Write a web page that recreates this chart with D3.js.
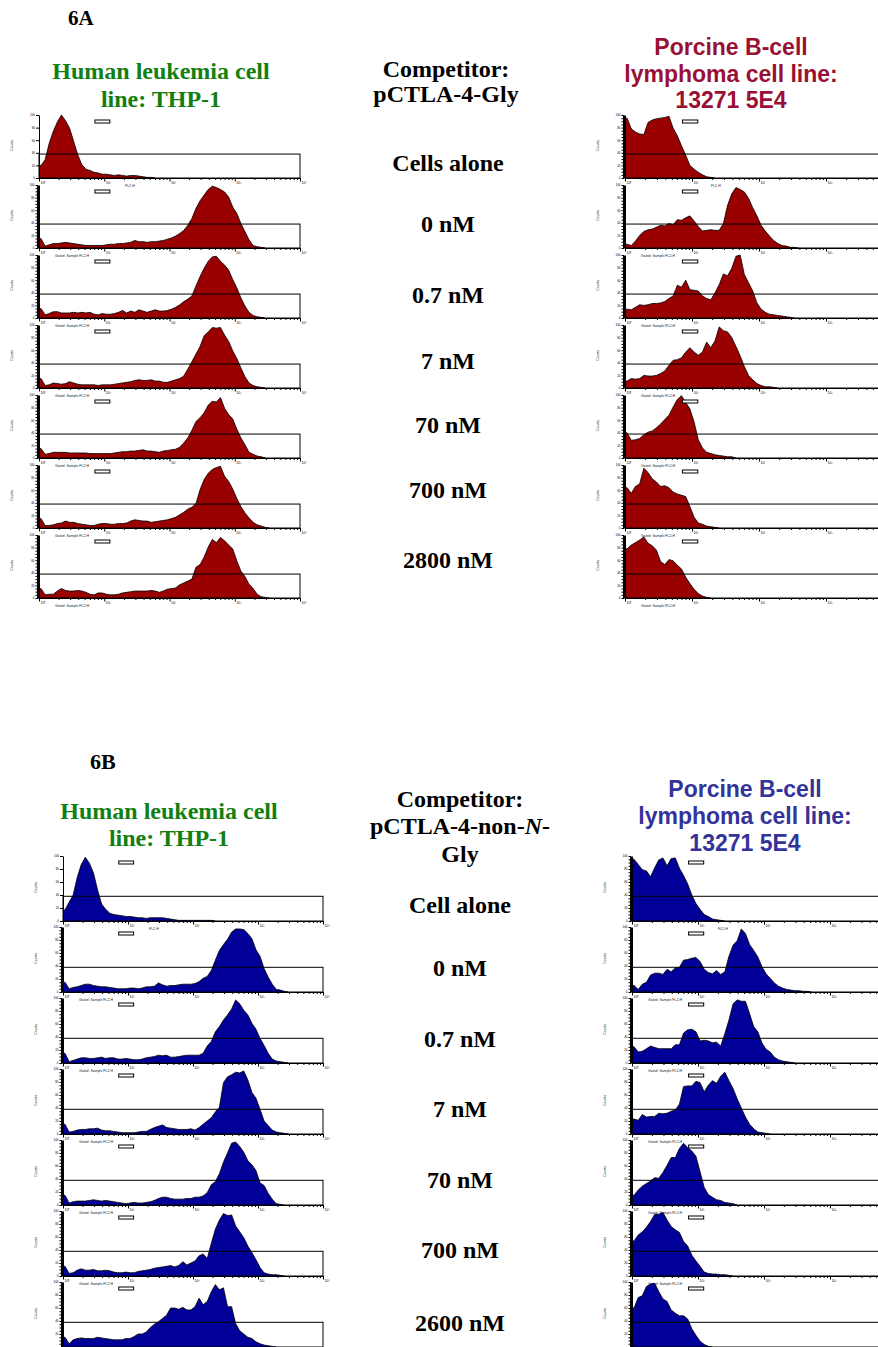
<!DOCTYPE html>
<html>
<head>
<meta charset="utf-8">
<script src="https://cdnjs.cloudflare.com/ajax/libs/d3/7.8.5/d3.min.js"></script>
<style>
  body { margin: 0; background: #fff; }
  svg { display: block; background: #fff; }
  .serif { font-family: "Liberation Serif", "Times New Roman", serif; font-weight: bold; }
  .sans { font-family: "Liberation Sans", Arial, sans-serif; font-weight: bold; }
  .tiny { font-family: "Liberation Sans", Arial, sans-serif; fill: #222; }
</style>
</head>
<body>
<div id="figure"></div>
<script>
// histogram counts, % of the plot's max, 16 bins per decade starting at channel 10^0
const binsPerDecade = 16;
const gateLevel = 38;            // horizontal gate, in % of max count
const markerRange = [7.2, 12.2]; // small marker bar, in channel units

const concA = ["Cells alone", "0 nM", "0.7 nM", "7 nM", "70 nM", "700 nM", "2800 nM"];
const concB = ["Cell alone", "0 nM", "0.7 nM", "7 nM", "70 nM", "700 nM", "2600 nM"];

// 6A, THP-1 (pCTLA-4-Gly)
const thpGly = [
  [20,29,55,74,89,100,91,79,58,37,21,14,12,9,8,6,6,5,4,5,4,3,4,4,3,2,1,1],
  [15,3,5,7,7,8,9,8,7,6,5,4,4,4,4,4,5,6,6,7,7,8,9,12,10,10,9,10,10,11,12,14,16,19,23,28,36,47,63,75,84,93,98,96,93,89,81,65,55,39,26,13,4,2,1],
  [15,5,7,10,10,8,8,8,9,8,9,8,9,6,5,7,6,6,7,9,12,8,11,9,13,11,9,11,13,11,11,12,14,17,21,26,30,35,51,66,79,90,97,98,90,84,76,61,48,32,19,9,4,2,1],
  [15,4,5,8,7,6,7,10,8,6,5,5,5,5,4,5,5,5,6,7,8,9,10,12,13,12,12,13,11,11,9,9,11,13,15,19,30,42,54,66,83,89,96,95,96,84,74,59,47,32,18,8,4,2,1],
  [15,6,7,9,9,9,9,8,8,8,8,8,7,7,7,7,7,7,8,9,10,10,11,11,12,13,11,11,10,9,11,12,13,14,17,24,32,44,58,64,72,84,90,89,96,79,69,62,46,32,21,9,6,3,2],
  [15,4,4,5,7,8,11,9,9,7,6,5,4,4,6,7,7,6,6,7,7,8,11,13,12,11,11,9,10,11,12,13,15,17,21,25,30,33,39,61,77,87,93,96,98,82,74,62,47,34,24,16,9,5,3,1],
  [15,5,6,6,11,15,12,11,11,12,11,9,6,5,8,8,6,5,5,6,8,9,10,11,11,11,11,12,11,9,11,14,15,16,21,24,27,30,49,53,65,81,93,88,96,91,84,78,59,43,34,22,15,6,2,1]
];

// 6A, porcine 13271 5E4 (pCTLA-4-Gly)
const pbGly = [
  [95,78,73,70,69,88,92,94,95,96,98,79,67,51,36,20,14,9,5,2,1],
  [6,4,11,20,26,29,30,33,36,35,39,37,45,44,48,51,43,34,27,28,29,28,28,39,68,86,96,93,89,79,64,51,36,27,19,12,7,4,3,1,1],
  [14,13,17,21,20,21,23,23,24,26,31,35,52,49,60,45,44,43,35,31,29,40,53,70,67,79,98,100,69,56,43,24,14,9,6,5,4,3,2,1],
  [11,15,14,15,20,19,19,20,23,27,36,44,45,48,57,64,57,52,57,73,64,75,97,91,89,80,66,51,34,20,13,7,4,2,2,1],
  [40,28,29,31,37,41,43,48,54,61,68,81,93,99,88,78,57,29,16,9,7,5,4,3,2,2],
  [64,55,66,70,95,88,78,73,66,67,64,57,54,52,50,34,17,8,6,3,2,1],
  [78,84,88,92,97,87,83,76,58,53,61,59,52,46,33,23,14,7,3,1]
];

// 6B, THP-1 (pCTLA-4-non-N-Gly)
const thpNonGly = [
  [17,29,40,67,87,98,89,74,48,26,18,12,10,9,8,7,7,6,5,5,4,5,5,5,5,4,3,2,1,1,1,1,1,1,1,1,1],
  [15,5,7,8,10,12,12,10,9,8,8,7,6,5,5,5,6,6,5,6,8,8,9,14,11,9,10,10,11,12,12,12,13,16,21,24,33,49,64,73,81,92,97,97,96,90,82,65,55,36,23,12,4,3,1],
  [15,2,4,6,8,8,7,7,8,9,7,8,8,6,6,7,6,5,5,6,8,9,10,12,11,12,9,9,10,11,12,12,12,12,15,26,33,48,56,66,74,83,97,91,81,74,61,52,38,27,15,6,3,2,1],
  [15,3,4,6,7,7,8,8,9,6,5,5,4,3,2,2,2,2,3,4,4,7,10,12,14,10,9,8,7,7,7,8,6,10,15,20,25,34,41,79,88,91,95,94,97,83,64,55,38,20,13,6,3,2,1],
  [15,3,5,6,6,6,7,8,7,6,7,6,5,4,3,2,3,4,3,3,4,5,7,10,12,12,10,9,9,9,10,10,12,12,14,19,31,36,48,66,80,95,97,90,81,68,62,53,34,30,18,9,2,1],
  [15,4,5,9,11,9,9,10,8,8,9,8,6,5,5,6,5,5,7,8,9,10,12,13,14,15,16,14,16,22,17,20,23,31,34,27,50,72,86,96,93,94,77,68,59,46,36,25,13,5,3,2,2,1],
  [15,5,11,13,14,13,13,13,15,14,13,12,11,11,11,13,13,16,20,20,23,30,35,39,44,49,60,60,58,61,57,57,62,75,65,70,85,96,88,91,62,62,36,25,20,15,13,8,5,3,2,1]
];

// 6B, porcine 13271 5E4 (pCTLA-4-non-N-Gly)
const pbNonGly = [
  [95,87,79,77,68,82,94,97,85,96,97,81,70,57,40,27,18,10,7,3,2,1],
  [10,4,12,15,26,29,29,27,35,31,37,38,49,50,52,53,47,35,30,28,33,27,31,55,72,79,97,90,73,64,54,39,28,21,14,9,6,4,3,2,2,1,1],
  [25,17,18,22,26,24,22,22,22,22,28,28,46,51,52,48,34,35,34,31,32,26,45,66,91,97,95,95,76,56,48,31,21,17,9,5,3,2,1],
  [23,21,30,26,27,27,32,31,32,35,37,46,73,74,74,81,79,65,75,82,78,89,95,82,70,54,40,26,15,8,3,2,1],
  [15,23,29,33,37,42,41,50,61,73,73,87,95,88,83,75,51,27,16,12,8,7,4,3,2],
  [54,63,68,75,84,95,95,98,86,76,71,67,53,46,32,23,15,6,4,3,3,2,2,1],
  [60,76,79,93,97,98,85,74,70,57,52,48,48,43,28,18,9,4,1]
];

const W = 878, H = 1347;
const svg = d3.select("#figure").append("svg").attr("width", W).attr("height", H);

const supDigits = ["\u2070", "\u00b9", "\u00b2", "\u00b3", "\u2074"];

function drawHist(counts, x0, w, top, h, fill, dense, firstRow) {
  const g = svg.append("g");
  const x = d3.scaleLog().domain([1, 1e4]).range([x0, x0 + w]);
  const y = d3.scaleLinear().domain([0, 100]).range([top + h, top]);
  const roomBelow = top + h + 8 < H; // last row sits on the page edge

  const pts = counts.map((c, i) => [Math.pow(10, (i + 0.5) / binsPerDecade), c]);
  pts.unshift([1, counts[0]]);
  pts.push([Math.pow(10, (counts.length + 0.5) / binsPerDecade), 0]);

  const area = d3.area().x(d => x(d[0])).y0(y(0)).y1(d => y(d[1]));
  const line = d3.line().x(d => x(d[0])).y(d => y(d[1]));
  g.append("path").attr("d", area(pts)).attr("fill", fill);
  g.append("path").attr("d", line(pts)).attr("fill", "none")
    .attr("stroke", "#000").attr("stroke-width", 0.8);

  // x axis: log minor + decade ticks (labels only where they fit on the page)
  const minor = [];
  for (let d = 0; d < 4; d++) for (let k = 2; k < 10; k++) minor.push(k * Math.pow(10, d));
  g.append("g").attr("transform", `translate(0,${top + h})`)
    .call(d3.axisBottom(x).tickValues(minor).tickSize(2).tickSizeOuter(0).tickFormat(""))
    .call(a => a.select(".domain").attr("stroke-width", 1));
  const decades = [1, 10, 100, 1000, 10000].filter(d => x(d) < W - 12);
  g.append("g").attr("transform", `translate(0,${top + h})`)
    .call(d3.axisBottom(x).tickValues(decades).tickSize(3.5)
      .tickSizeOuter(0).tickPadding(0.5)
      .tickFormat(d => (roomBelow ? "10" + supDigits[Math.round(Math.log10(d))] : "")))
    .attr("font-size", 3.5)
    .call(a => a.select(".domain").remove())
    .call(a => a.selectAll("text").attr("text-anchor", "start").attr("dx", 1));

  // y axis
  const ya = g.append("g").attr("transform", `translate(${dense ? x0 - 1 : x0},0)`)
    .call(d3.axisLeft(y).ticks(dense ? 20 : 4).tickSize(dense ? 2.5 : 3).tickSizeOuter(0)
      .tickPadding(1)
      .tickFormat(d => {
        if (d === 0 && !roomBelow) return "";
        return dense ? (d % 20 === 0 ? d : "") : d;
      }))
    .attr("font-size", 3);
  ya.select(".domain").attr("stroke-width", dense ? 3 : 1);

  g.append("text").attr("class", "tiny").attr("font-size", 3.5)
    .attr("transform", `translate(${x0 - 26},${top + h * 0.48}) rotate(-90)`)
    .attr("text-anchor", "middle").text("Counts");
  if (roomBelow) {
    g.append("text").attr("class", "tiny").attr("font-size", 3.5)
      .attr("x", firstRow ? x0 + 86 : x0 + 16).attr("y", top + h + 9)
      .text(firstRow ? "FL2-H" : "Gated: Sample FL2-H");
  }

  // gate rectangle
  g.append("rect")
    .attr("x", x(1)).attr("y", y(gateLevel))
    .attr("width", x(1e4) - x(1)).attr("height", y(0) - y(gateLevel))
    .attr("fill", "none").attr("stroke", "#000").attr("stroke-width", 1);

  // marker bar
  g.append("rect")
    .attr("x", x(markerRange[0])).attr("y", top + 5)
    .attr("width", x(markerRange[1]) - x(markerRange[0])).attr("height", 3)
    .attr("fill", "#fff").attr("stroke", "#000").attr("stroke-width", 1);
}

function text(x, y, str, cls, size, color, anchor) {
  return svg.append("text").attr("class", cls).attr("x", x).attr("y", y)
    .attr("font-size", size).attr("fill", color || "#000")
    .attr("text-anchor", anchor || "middle").text(str);
}

const panels = [
  {
    tag: "6A", tagX: 68, tagY: 25, tagSize: 21, fill: "#990000",
    rowTops: [115, 185, 255, 325, 395, 465, 535], rowH: 63,
    cols: [{ x0: 39, w: 261, data: thpGly }, { x0: 625, w: 268, data: pbGly }],
    leftHead: { x: 161, ys: [79, 107] },
    midHead: { x: 446, ys: [77, 102] },
    rightHead: { x: 731, ys: [55, 82, 108], color: "#9a1034" },
    conc: concA, concX: 448, concYs: [171, 232, 303, 369, 433, 498, 568]
  },
  {
    tag: "6B", tagX: 90, tagY: 769, tagSize: 22, fill: "#000099",
    rowTops: [856, 927, 998, 1069, 1140, 1211, 1282], rowH: 65,
    cols: [{ x0: 63, w: 260, data: thpNonGly }, { x0: 632, w: 264, data: pbNonGly }],
    leftHead: { x: 169, ys: [819, 846] },
    midHead: { x: 460, ys: [807, 834, 862] },
    rightHead: { x: 745, ys: [797, 824, 851], color: "#333399" },
    conc: concB, concX: 460, concYs: [913, 976, 1047, 1117, 1188, 1258, 1331]
  }
];

panels.forEach((p, pi) => {
  text(p.tagX, p.tagY, p.tag, "serif", p.tagSize, "#000", "start");

  text(p.leftHead.x, p.leftHead.ys[0], "Human leukemia cell", "serif", 24, "#118011");
  text(p.leftHead.x, p.leftHead.ys[1], "line: THP-1", "serif", 24, "#118011");

  text(p.midHead.x, p.midHead.ys[0], "Competitor:", "serif", 24);
  if (pi === 0) {
    text(p.midHead.x, p.midHead.ys[1], "pCTLA-4-Gly", "serif", 24);
  } else {
    const t = text(p.midHead.x, p.midHead.ys[1], "", "serif", 24);
    t.append("tspan").text("pCTLA-4-non-");
    t.append("tspan").attr("font-style", "italic").text("N");
    t.append("tspan").text("-");
    text(p.midHead.x, p.midHead.ys[2], "Gly", "serif", 24);
  }

  ["Porcine B-cell", "lymphoma cell line:", "13271 5E4"].forEach((s, i) =>
    text(p.rightHead.x, p.rightHead.ys[i], s, "sans", 23, p.rightHead.color));

  p.conc.forEach((c, i) => text(p.concX, p.concYs[i], c, "serif", 24));

  p.cols.forEach((col, ci) => {
    col.data.forEach((counts, ri) => {
      const dense = !(ci === 0 && ri === 0);
      drawHist(counts, col.x0, col.w, p.rowTops[ri], p.rowH, p.fill, dense, ri === 0);
    });
  });
});
</script>
</body>
</html>
